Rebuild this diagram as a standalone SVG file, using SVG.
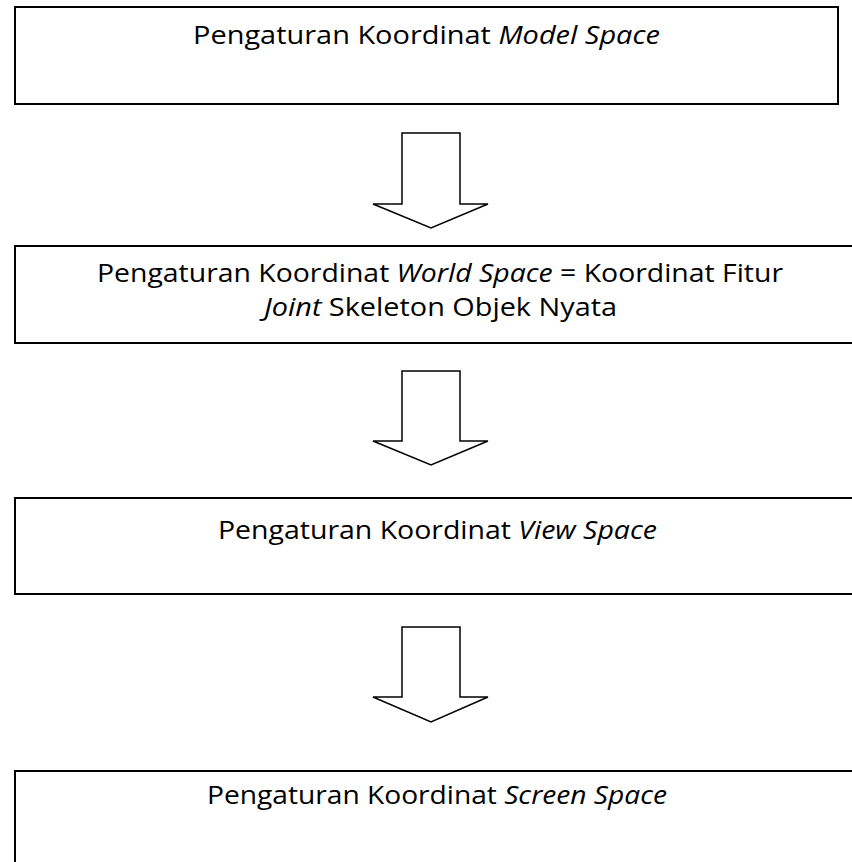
<svg xmlns="http://www.w3.org/2000/svg" width="852" height="862" viewBox="0 0 852 862">
<style>
.box{fill:#fff;stroke:#000;stroke-width:2}
.arr{fill:#fff;stroke:#000;stroke-width:1.5;stroke-linejoin:miter}
.t{font-family:"Open Sans","Liberation Sans",sans-serif;font-size:26px;fill:#000;text-anchor:middle}
.i{font-style:italic}
</style>
<rect width="852" height="862" fill="#fff"/>
<g id="node1">
<rect class="box" x="15" y="7" width="823" height="97"/>
<text class="t" x="426.5" y="44" textLength="467" lengthAdjust="spacingAndGlyphs">Pengaturan Koordinat  <tspan class="i">Model Space</tspan></text>
</g>
<g id="node2">
<rect class="box" x="15" y="246" width="850" height="97"/>
<text class="t" x="440" y="282" textLength="686" lengthAdjust="spacingAndGlyphs">Pengaturan Koordinat <tspan class="i">World Space</tspan> = Koordinat Fitur</text>
<text class="t" x="440.5" y="316" textLength="353" lengthAdjust="spacingAndGlyphs"><tspan class="i">Joint</tspan> Skeleton Objek Nyata</text>
</g>
<g id="node3">
<rect class="box" x="15" y="498" width="850" height="96"/>
<text class="t" x="437.5" y="539" textLength="439" lengthAdjust="spacingAndGlyphs">Pengaturan Koordinat <tspan class="i">View Space</tspan></text>
</g>
<g id="node4">
<rect class="box" x="15" y="771" width="850" height="120"/>
<text class="t" x="437" y="804" textLength="460" lengthAdjust="spacingAndGlyphs">Pengaturan Koordinat <tspan class="i">Screen Space</tspan></text>
</g>
<g id="connectors">
<path class="arr" d="M402,133 H460 V204 H488 L431,228 L373,204 H402 Z"/>
<path class="arr" d="M402,371 H460 V441 H488 L431,465 L373,441 H402 Z"/>
<path class="arr" d="M402,627 H460 V697 H488 L431,722 L373,697 H402 Z"/>
</g>
</svg>
